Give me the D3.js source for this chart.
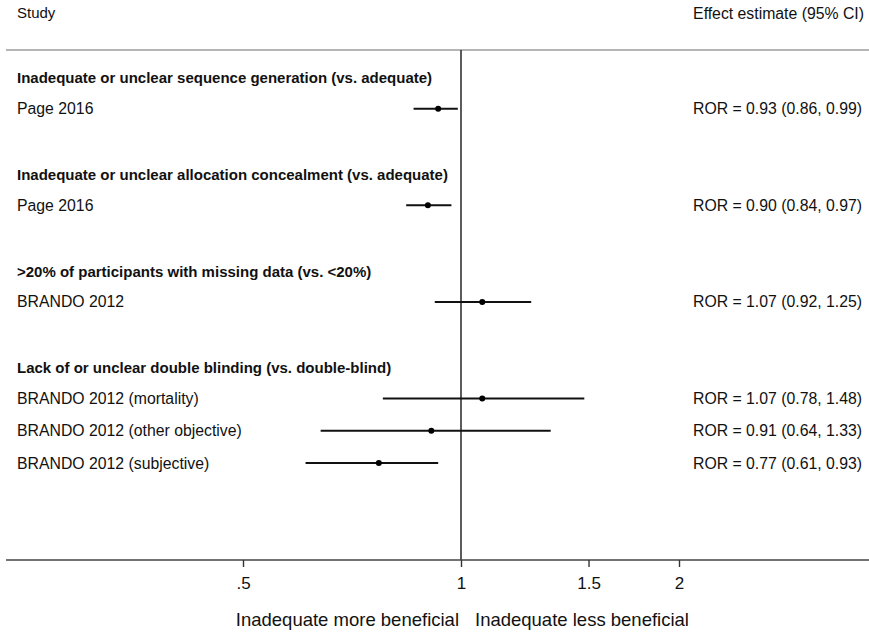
<!DOCTYPE html>
<html>
<head>
<meta charset="utf-8">
<script src="https://cdn.jsdelivr.net/npm/d3@7"></script>
<style>
  html, body { margin: 0; padding: 0; background: #fff; }
  svg { display: block; }
  text { font-family: "Liberation Sans", Arial, Helvetica, sans-serif; fill: #111; }
</style>
</head>
<body>
<svg id="chart" width="869" height="632"></svg>
<script>
// Bias domains (section headings) and the studies listed under each
const sections = [
  "Inadequate or unclear sequence generation (vs. adequate)",
  "Inadequate or unclear allocation concealment (vs. adequate)",
  ">20% of participants with missing data (vs. <20%)",
  "Lack of or unclear double blinding (vs. double-blind)"
];
const studies = [
  "Page 2016",
  "Page 2016",
  "BRANDO 2012",
  "BRANDO 2012 (mortality)",
  "BRANDO 2012 (other objective)",
  "BRANDO 2012 (subjective)"
];
const studySection = [0, 1, 2, 3, 3, 3];
// Ratio of odds ratios with 95% CI
const ror   = [0.93, 0.90, 1.07, 1.07, 0.91, 0.77];
const lower = [0.86, 0.84, 0.92, 0.78, 0.64, 0.61];
const upper = [0.99, 0.97, 1.25, 1.48, 1.33, 0.93];
// Axis ticks
const tickValues = [0.5, 1, 1.5, 2];
const tickLabels = [".5", "1", "1.5", "2"];

const svg = d3.select("#chart");
const W = 869;

// Row layout: each section takes a heading row, its studies, then a blank row
const rows = [];
let idx = 0;
sections.forEach((s, si) => {
  rows.push({ type: "heading", text: s, i: idx++ });
  studies.forEach((st, k) => {
    if (studySection[k] === si) rows.push({ type: "study", k, i: idx++ });
  });
  idx++;
});

const x = d3.scaleLog().base(2).domain([0.5, 2]).range([243, 679]);
const y = d3.scaleLinear().domain([0, 12]).range([76.5, 463]);

const fmt = d3.format(".2f");

// Column headers
svg.append("text").attr("x", 17).attr("y", 13).attr("dy", "0.35em")
  .style("font-size", "15px").text("Study");
svg.append("text").attr("x", 864).attr("y", 13).attr("dy", "0.35em")
  .attr("text-anchor", "end").style("font-size", "15.8px").text("Effect estimate (95% CI)");

// Header rule
svg.append("line").attr("x1", 6).attr("x2", W).attr("y1", 50).attr("y2", 50)
  .attr("stroke", "#b5b5b5").attr("stroke-width", 2);

// Line of no effect
svg.append("line").attr("x1", x(1)).attr("x2", x(1)).attr("y1", 50).attr("y2", 560)
  .attr("stroke", "#333").attr("stroke-width", 1.6);

// Section headings
svg.selectAll("text.heading").data(rows.filter(r => r.type === "heading"))
  .join("text").attr("class", "heading")
  .attr("x", 17).attr("y", d => y(d.i) + 1.5).attr("dy", "0.35em")
  .style("font-size", "15px").style("font-weight", "bold")
  .text(d => d.text);

const studyRows = rows.filter(r => r.type === "study");

// Study labels
svg.selectAll("text.study").data(studyRows).join("text").attr("class", "study")
  .attr("x", 17).attr("y", d => y(d.i)).attr("dy", "0.35em")
  .style("font-size", "15.8px")
  .text(d => studies[d.k]);

// Effect estimate text
svg.selectAll("text.est").data(studyRows).join("text").attr("class", "est")
  .attr("x", 862).attr("y", d => y(d.i)).attr("dy", "0.35em")
  .attr("text-anchor", "end").style("font-size", "15.8px")
  .text(d => `ROR = ${fmt(ror[d.k])} (${fmt(lower[d.k])}, ${fmt(upper[d.k])})`);

// Confidence intervals
svg.selectAll("line.ci").data(studyRows).join("line").attr("class", "ci")
  .attr("x1", d => x(lower[d.k])).attr("x2", d => x(upper[d.k]))
  .attr("y1", d => y(d.i)).attr("y2", d => y(d.i))
  .attr("stroke", "#111").attr("stroke-width", 2);

// Point estimates
svg.selectAll("circle.pt").data(studyRows).join("circle").attr("class", "pt")
  .attr("cx", d => x(ror[d.k])).attr("cy", d => y(d.i)).attr("r", 3)
  .attr("fill", "#000");

// Bottom axis
const axisG = svg.append("g").attr("transform", "translate(0,560)");
axisG.append("line").attr("x1", 6).attr("x2", W).attr("y1", 0).attr("y2", 0)
  .attr("stroke", "#444").attr("stroke-width", 1.6);
const axis = d3.axisBottom(x).tickValues(tickValues)
  .tickFormat((d, i) => tickLabels[i]).tickSize(7).tickPadding(10);
axisG.call(axis);
axisG.select(".domain").remove();
axisG.selectAll(".tick line").attr("stroke", "#333").attr("stroke-width", 1.4);
axisG.selectAll(".tick text").style("font-size", "17px").attr("fill", "#111")
  .style("font-family", "'Liberation Sans', Arial, Helvetica, sans-serif");

// Direction labels
svg.append("text").attr("x", x(1) - 2).attr("y", 620).attr("dy", "0.35em")
  .attr("text-anchor", "end").style("font-size", "18.5px").text("Inadequate more beneficial");
svg.append("text").attr("x", x(1) + 14).attr("y", 620).attr("dy", "0.35em")
  .style("font-size", "18.5px").text("Inadequate less beneficial");
</script>
</body>
</html>
